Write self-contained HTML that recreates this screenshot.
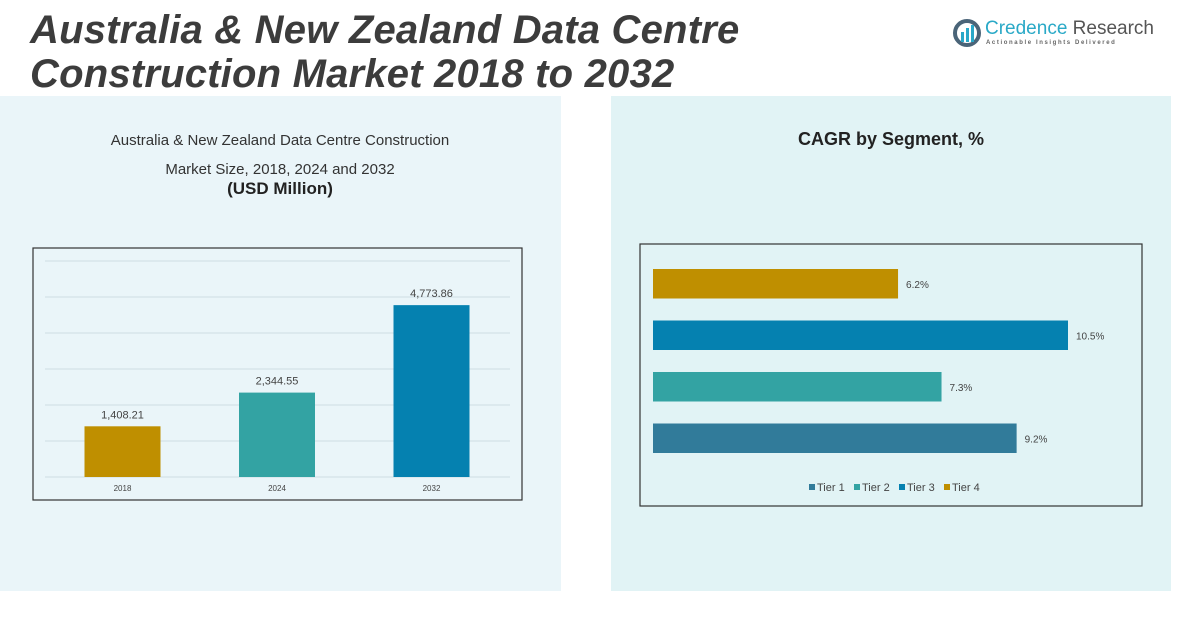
<!DOCTYPE html>
<html><head><meta charset="utf-8"><style>
body{margin:0;width:1202px;height:632px;background:#fff;position:relative;overflow:hidden;font-family:"Liberation Sans",sans-serif;}
.abs{position:absolute;}
</style></head><body>
<div class="abs" style="left:0;top:96px;width:561px;height:495px;background:#eaf5f9"></div>
<div class="abs" style="left:611px;top:96px;width:560px;height:495px;background:#e1f3f5"></div>
<div class="abs" style="left:30px;top:8px;font-size:40px;font-weight:bold;font-style:italic;color:#3c3c3c;line-height:44px;letter-spacing:0.2px">Australia &amp; New Zealand Data Centre<br>Construction Market 2018 to 2032</div>
<div class="abs" style="left:952px;top:18px;width:200px;height:32px">
<svg width="30" height="30" style="position:absolute;left:0;top:0"><circle cx="15" cy="15" r="12" fill="none" stroke="#4a6478" stroke-width="4"/><rect x="9" y="14" width="3" height="10" fill="#29a8c9"/><rect x="14" y="10" width="3" height="14" fill="#29a8c9"/><rect x="19" y="7" width="3" height="17" fill="#29a8c9"/></svg>
<div class="abs" style="left:33px;top:0;font-size:19px;color:#555;white-space:nowrap"><span style="color:#2aa9c7">Credence</span> Research</div>
<div class="abs" style="left:34px;top:22px;font-size:6px;letter-spacing:1.6px;color:#666;white-space:nowrap;font-weight:bold">Actionable Insights Delivered</div>
</div>
<div class="abs" style="left:60px;top:126px;width:440px;text-align:center;font-size:15px;color:#333;line-height:29px">Australia &amp; New Zealand Data Centre Construction<br>Market Size, 2018, 2024 and 2032</div>
<div class="abs" style="left:60px;top:179px;width:440px;text-align:center;font-size:17px;font-weight:bold;color:#222">(USD Million)</div>
<div class="abs" style="left:611px;top:129px;width:560px;text-align:center;font-size:18px;font-weight:bold;color:#222">CAGR by Segment, %</div>
<svg class="abs" style="left:0;top:0" width="1202" height="632" id="svg"></svg>
<script>
const years=["2018","2024","2032"];
const marketValues=[1408.21,2344.55,4773.86];
const valueLabels=["1,408.21","2,344.55","4,773.86"];
const yTicks=[0,1000,2000,3000,4000,5000,6000];
const segments=["Tier 4","Tier 3","Tier 2","Tier 1"];
const cagrValues=[6.2,10.5,7.3,9.2];
const cagrLabels=["6.2%","10.5%","7.3%","9.2%"];
const legendNames=["Tier 1","Tier 2","Tier 3","Tier 4"];
const ns="http://www.w3.org/2000/svg",svg=document.getElementById('svg');
function mk(t,a,p){const e=document.createElementNS(ns,t);for(const k in a)e.setAttribute(k,a[k]);(p||svg).appendChild(e);return e;}
const barColors={"2018":"#bf8f00","2024":"#33a3a3","2032":"#0581b0"};
const segColors={"Tier 1":"#317b9a","Tier 2":"#33a3a3","Tier 3":"#0581b0","Tier 4":"#bf8f00"};
let f=mk('rect',{x:33,y:248,width:489,height:252,fill:'none',stroke:'#333','stroke-width':1.2});

const y=v=>477-v*(216/6000);
const bandX=i=>45+i*154.5;
yTicks.forEach(t=>{let g=mk('line',{x1:45,x2:510,y1:y(t),y2:y(t),stroke:'#cfdde3','stroke-width':1});
});
years.forEach((yr,i)=>{const cx=bandX(i)+77.5;
let r=mk('rect',{x:cx-38,y:y(marketValues[i]),width:76,height:477-y(marketValues[i]),fill:barColors[yr]});

let t=mk('text',{x:cx,y:y(marketValues[i])-8,'text-anchor':'middle','font-size':11,fill:'#444'});t.textContent=valueLabels[i];

let l=mk('text',{x:cx,y:491,'text-anchor':'middle','font-size':8,fill:'#444'});l.textContent=yr;
});
f=mk('rect',{x:640,y:244,width:502,height:262,fill:'none',stroke:'#333','stroke-width':1.2});

const xs=v=>653+v*(415/10.5);
segments.forEach((s,i)=>{const top=269+i*51.5;
let r=mk('rect',{x:653,y:top,width:xs(cagrValues[i])-653,height:29.5,fill:segColors[s]});

let t=mk('text',{x:xs(cagrValues[i])+8,y:top+19,'font-size':10,fill:'#444'});t.textContent=cagrLabels[i];
});
let lx=809;
legendNames.forEach(n=>{let g=mk('g',{});
mk('rect',{x:lx,y:484,width:6,height:6,fill:segColors[n]},g);
let t=mk('text',{x:lx+8,y:491,'font-size':11,fill:'#444'},g);t.textContent=n;lx+=45;});
</script>
</body></html>
